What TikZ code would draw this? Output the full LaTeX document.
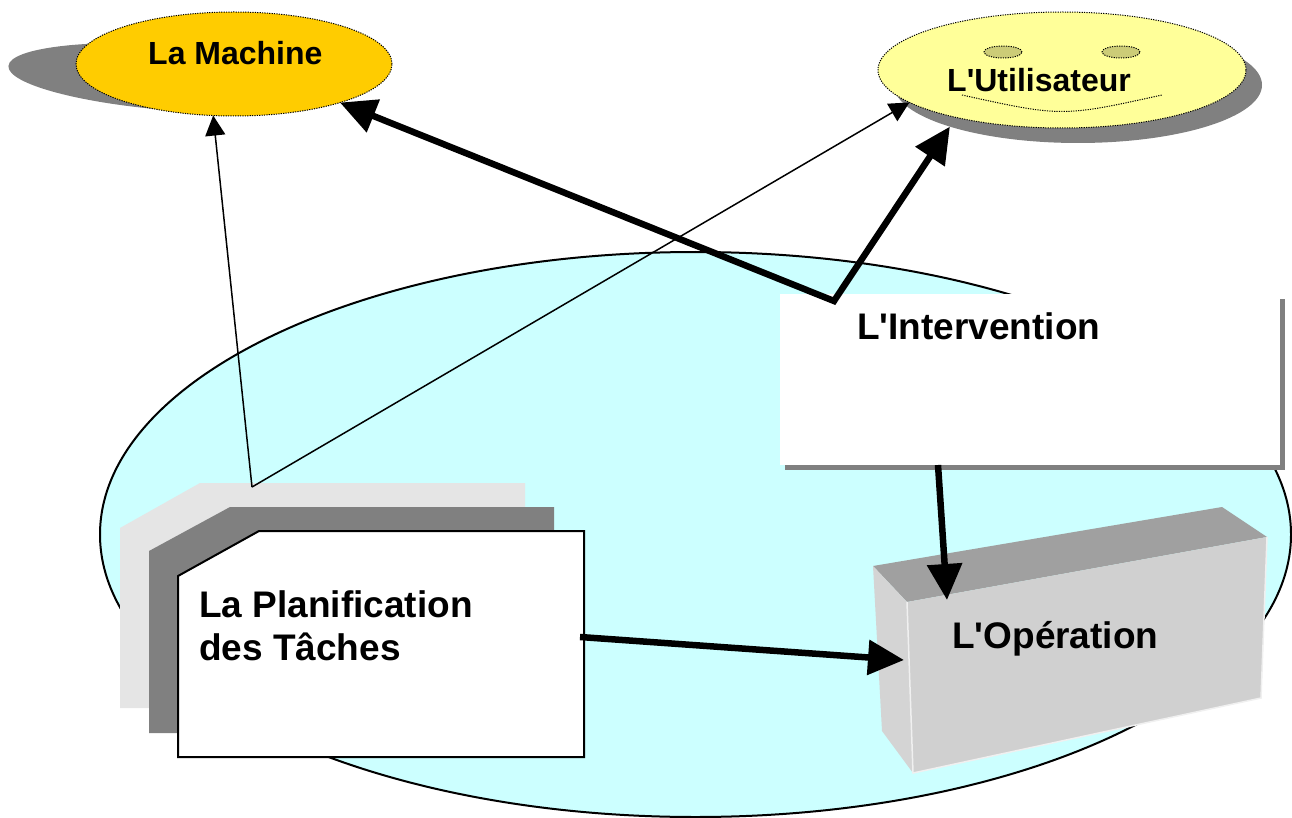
\documentclass[tikz,border=0pt]{standalone}
\usepackage{fontspec}
\setmainfont{Liberation Sans}
\usetikzlibrary{arrows.meta,shapes.geometric}
\definecolor{sky}{HTML}{CCFFFF}
\definecolor{gold}{HTML}{FFCC00}
\definecolor{paleyellow}{HTML}{FFFF99}
\definecolor{eyeol}{HTML}{CCCC77}
\definecolor{shadowgray}{HTML}{808080}
\definecolor{lightsheet}{HTML}{E5E5E5}
\definecolor{boxtop}{HTML}{A0A0A0}
\definecolor{boxfront}{HTML}{D0D0D0}
\definecolor{boxside}{HTML}{D4D4D4}
\definecolor{boxedge}{HTML}{F0F0F0}
\begin{document}
\begin{tikzpicture}[x=1pt,y=-1pt,
  dotborder/.style={draw=black, line width=1pt, dash pattern=on 1.2pt off 1.2pt},
  oval/.style={ellipse, inner sep=0pt, outer sep=0pt},
  smalllbl/.style={font=\bfseries\fontsize{32}{38}\selectfont, inner sep=0pt, anchor=base west},
  biglbl/.style={font=\bfseries\fontsize{37}{43}\selectfont, inner sep=0pt, anchor=base west},
  thinarrow/.style={line width=1.5pt, -{Triangle[length=20pt,width=20pt]}},
  thickarrow/.style={line width=6.5pt, line join=miter, -{Triangle[length=36pt,width=34pt]}},
  thickboth/.style={line width=6.5pt, line join=miter, {Triangle[length=36pt,width=34pt]}-{Triangle[length=36pt,width=34pt]}}
]
\useasboundingbox (0,0) rectangle (1292,818);

% domain ellipse
\node[oval, fill=sky, draw=black, line width=2pt, minimum width=1191pt, minimum height=565pt] (domain) at (695.5,534.5) {};

% La Machine
\node[oval, fill=shadowgray, minimum width=344pt, minimum height=66pt, rotate=-4] (mshad) at (180,78) {};
\node[oval, fill=gold, dotborder, minimum width=316pt, minimum height=104pt] (mach) at (234,64) {};
\node[smalllbl] (machtxt) at (148,65) {La Machine};

% L'Utilisateur
\node[oval, fill=shadowgray, minimum width=368pt, minimum height=116pt] (ushad) at (1078,85) {};
\node[oval, fill=paleyellow, dotborder, minimum width=368pt, minimum height=116pt] (util) at (1062,70) {};
\node[oval, fill=eyeol, dotborder, minimum width=38pt, minimum height=12pt] (eyeL) at (1003,52) {};
\node[oval, fill=eyeol, dotborder, minimum width=38pt, minimum height=12pt] (eyeR) at (1121,52) {};
\draw[dotborder] (962,95) .. controls (1062,117) .. (1162,95);
\node[smalllbl] (utiltxt) at (947,92) {L\textquotesingle Utilisateur};

% L'Intervention
\node[fill=shadowgray, minimum width=500pt, minimum height=171pt, inner sep=0pt, anchor=north west] (intershad) at (784.5,298.5) {};
\node[fill=white, minimum width=500pt, minimum height=171pt, inner sep=0pt, anchor=north west] (inter) at (780,294) {};
\node[biglbl] (intertxt) at (857,339) {L\textquotesingle Intervention};

% La Planification des Taches
\fill[lightsheet] (120,528) -- (200,483) -- (525,483) -- (525,708) -- (120,708) -- cycle;
\fill[shadowgray] (149,551) -- (230,507) -- (554,507) -- (554,733) -- (149,733) -- cycle;
\draw[fill=white, line width=2pt, line join=miter] (178,576) -- (259,531) -- (584,531) -- (584,757) -- (178,757) -- cycle;
\node[biglbl, align=left] (plantxt) at (199,660) {La Planification\\des Tâches};

% L'Operation
\fill[boxtop] (873,566) -- (1222,507) -- (1267,537) -- (907,602) -- cycle;
\fill[boxside] (873,566) -- (907,602) -- (913,773) -- (882,731) -- cycle;
\fill[boxfront] (907,602) -- (1267,537) -- (1261,698) -- (913,773) -- cycle;
\draw[boxedge, line width=1.5pt] (907,602) -- (913,773) -- (1261,698) -- (1267,537);
\node[biglbl] (optxt) at (952,648) {L\textquotesingle Opération};

% connector end points
\coordinate (plantop) at (252,487);
\coordinate (planright) at (580,637);
\coordinate (intercorner) at (834,301);
\coordinate (interbottom) at (938,465);
\coordinate (optop) at (947,600);
\coordinate (opleft) at (904,660);

% connectors
\draw[thinarrow] (plantop) -- (mach.248);
\draw[thinarrow] (plantop) -- (util.192);
\draw[thickboth] (mach.340) -- (intercorner) -- (ushad.198);
\draw[thickarrow] (interbottom) -- (optop);
\draw[thickarrow] (planright) -- (opleft);
\end{tikzpicture}
\end{document}
